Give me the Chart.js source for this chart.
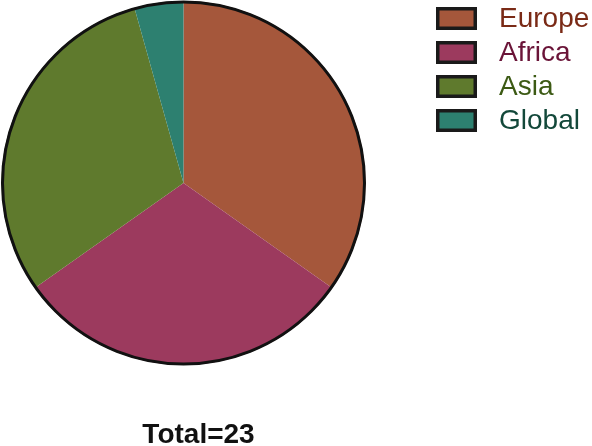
<!DOCTYPE html>
<html>
<head>
<meta charset="utf-8">
<script src="https://cdn.jsdelivr.net/npm/chart.js@4"></script>
<style>
html,body{margin:0;padding:0;background:#fff;}
canvas{display:block;}
</style>
</head>
<body>
<canvas id="c" width="592" height="446"></canvas>
<script>
const categories = ["Europe", "Africa", "Asia", "Global"];
const values = [8, 7, 7, 1];
const fillColors = ["#a5573b", "#9c3a5e", "#5f7a2d", "#2d8070"];
const textColors = ["#7a2a16", "#6a1438", "#3c5a14", "#13483a"];
const titleText = "Total=" + values.reduce((a, b) => a + b, 0);

const outline = {
  id: 'outline',
  afterDatasetsDraw(chart) {
    const arc = chart.getDatasetMeta(0).data[0];
    if (!arc) return;
    const ctx = chart.ctx;
    ctx.save();
    ctx.beginPath();
    ctx.arc(arc.x, arc.y, arc.outerRadius - 1, 0, Math.PI * 2);
    ctx.lineWidth = 3;
    ctx.strokeStyle = '#111';
    ctx.stroke();
    ctx.restore();
  }
};

const customLegend = {
  id: 'customLegend',
  afterDraw(chart) {
    const ctx = chart.ctx;
    ctx.save();
    const labels = chart.data.labels;
    const ds = chart.data.datasets[0];
    labels.forEach((lab, i) => {
      const top = 7 + i * 34;
      ctx.fillStyle = ds.backgroundColor[i];
      ctx.fillRect(437.75, top + 1.75, 37.5, 19.5);
      ctx.lineWidth = 3.5;
      ctx.strokeStyle = '#1a1a1a';
      ctx.strokeRect(437.75, top + 1.75, 37.5, 19.5);
      ctx.font = '28px "Liberation Sans", Arial, sans-serif';
      ctx.textBaseline = 'alphabetic';
      ctx.textAlign = 'left';
      ctx.fillStyle = textColors[i];
      ctx.fillText(lab, 499, 27 + i * 34);
    });
    ctx.font = 'bold 28px "Liberation Sans", Arial, sans-serif';
    ctx.textAlign = 'center';
    ctx.textBaseline = 'alphabetic';
    ctx.fillStyle = '#111';
    ctx.fillText(titleText, 198.5, 443);
    ctx.restore();
  }
};

new Chart(document.getElementById('c'), {
  type: 'pie',
  data: {
    labels: categories,
    datasets: [{
      data: values,
      backgroundColor: fillColors,
      borderWidth: 0
    }]
  },
  options: {
    responsive: false,
    animation: false,
    layout: { padding: { left: 1, top: 1, right: 226, bottom: 81 } },
    plugins: {
      legend: { display: false },
      title: { display: false },
      tooltip: { enabled: false }
    }
  },
  plugins: [outline, customLegend]
});
</script>
</body>
</html>
